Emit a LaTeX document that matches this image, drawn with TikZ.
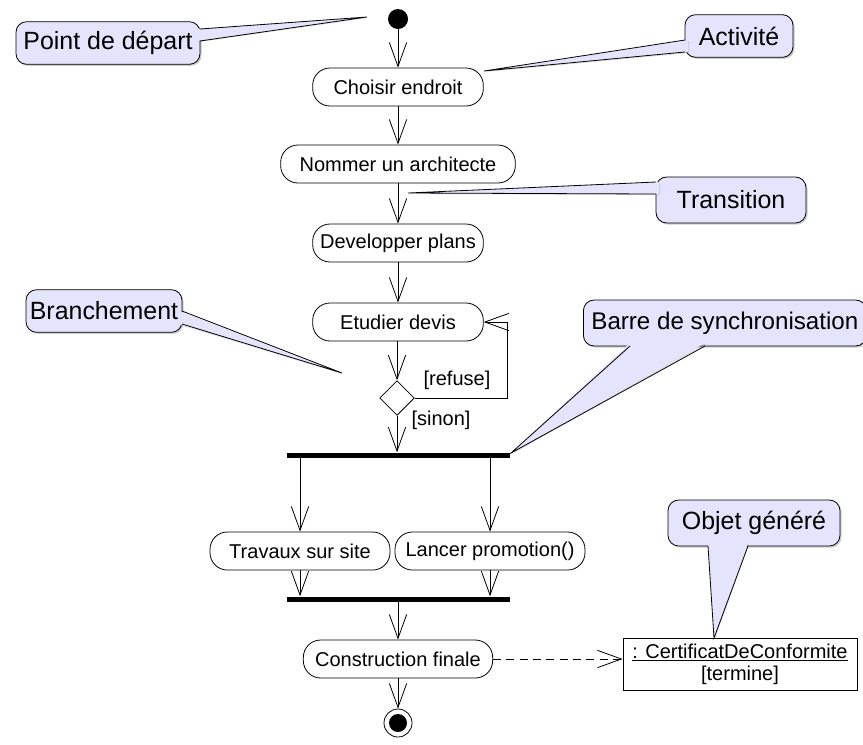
\documentclass[tikz,border=0pt]{standalone}
\usepackage{fontspec}
\setmainfont{Liberation Sans}
\usepackage{tikz}
\usepackage{xcolor}
\usetikzlibrary{shadows,arrows.meta,shapes.geometric}

\definecolor{notefill}{RGB}{228,228,252}

\begin{document}
\begin{tikzpicture}[x=0.75pt, y=-0.75pt,
  act/.style={draw, rectangle, rounded corners=13pt, minimum height=28.5pt,
    inner sep=0pt, line width=0.6pt, font=\fontsize{15}{18}\selectfont},
  bar/.style={fill=black, minimum width=167pt, minimum height=3.75pt, inner sep=0pt},
  flow/.style={line width=0.6pt, -{Straight Barb[length=18pt,width=13pt,line width=0.6pt]}},
  lbl/.style={inner sep=0pt, font=\fontsize{15}{18}\selectfont},
  noteshadow/.style={drop shadow={shadow xshift=1.2pt, shadow yshift=-1.2pt, opacity=0.4}},
  note/.style={draw, fill=notefill, rounded corners=8pt, minimum height=32pt,
    inner sep=0pt, line width=0.6pt, noteshadow, font=\fontsize{18.7}{22}\selectfont},
  ptr/.style={fill=notefill, drop shadow={shadow xshift=0.8pt, shadow yshift=-0.8pt, opacity=0.25}}]

  % Page with its margins
  \useasboundingbox (0,0) rectangle (863,744);

  % Activities
  \node[circle, fill=black, minimum size=15pt, inner sep=0pt] (start) at (398,19) {};
  \node[act, minimum width=128pt] (choisir) at (398,87) {Choisir endroit};
  \node[act, minimum width=176pt] (nommer) at (398,164) {Nommer un architecte};
  \node[act, minimum width=128pt] (plans) at (398,243) {Developper plans};
  \node[act, minimum width=128pt] (devis) at (398,322) {Etudier devis};
  \node[draw, diamond, minimum width=26pt, minimum height=26pt, inner sep=0pt,
    line width=0.6pt] (choix) at (397,398) {};
  \node[bar] (fork) at (398.5,455) {};
  \node[act, minimum width=135pt] (travaux) at (300,551) {Travaux sur site};
  \node[act, minimum width=142.5pt] (promo) at (490,551) {Lancer promotion()};
  \node[bar] (join) at (398.5,599) {};
  \node[act, minimum width=142pt] (constr) at (398,659) {Construction finale};
  \node[circle, draw, minimum size=21pt, inner sep=0pt, line width=0.6pt] (fin) at (398,723) {};
  \node[circle, fill=black, minimum size=13.5pt, inner sep=0pt] (findot) at (fin) {};
  \node[draw, line width=0.6pt, minimum width=175.5pt, minimum height=39pt, inner sep=0pt,
    align=center, font=\fontsize{15}{16.5}\selectfont] (certif) at (740,664)
    {\underline{: CertificatDeConformite}\\{[termine]}};

  % Transitions
  \draw[flow] (start) -- (choisir);
  \draw[flow] (choisir) -- (nommer);
  \draw[flow] (nommer) -- (plans);
  \draw[flow] (plans) -- (devis);
  \draw[flow] (devis.south -| choix.north) -- (choix.north);
  \draw[flow] (choix.south) -- (choix.south |- fork.north);
  \coordinate (retour) at (507,398);
  \draw[flow] (choix.east) -- (retour) |- (devis.east);
  \draw[flow] (fork.south -| travaux.north) -- (travaux.north);
  \draw[flow] (fork.south -| promo.north) -- (promo.north);
  \draw[flow] (travaux.south) -- (travaux.south |- join.north);
  \draw[flow] (promo.south) -- (promo.south |- join.north);
  \draw[flow] (join.south -| constr.north) -- (constr.north);
  \draw[flow] (constr) -- (fin);
  \draw[flow, dash pattern=on 6pt off 4pt] (constr.east) -- (constr.east -| certif.west);

  \node[lbl] (refuse) at (457,380) {[refuse]};
  \node[lbl] (sinon) at (441,420) {[sinon]};

  % Notes
  \node[note, minimum width=138pt] (depart) at (108,43) {Point de départ};
  \coordinate (departtip) at (367,17);
  \fill[ptr] (197,29) -- (departtip) -- (197,41) -- cycle;
  \draw[line width=0.6pt] (200,29) -- (departtip) -- (200,41);

  \node[note, minimum width=81pt] (activite) at (739,36) {Activité};
  \coordinate (activitetip) at (484,71);
  \fill[ptr] (688,40) -- (activitetip) -- (688,52) -- cycle;
  \draw[line width=0.6pt] (685,40) -- (activitetip) -- (685,52);

  \node[note, minimum width=112.5pt, minimum height=34.5pt] (transition) at (731,200) {Transition};
  \coordinate (transitiontip) at (408,193);
  \fill[ptr] (659,182) -- (transitiontip) -- (659,194) -- cycle;
  \draw[line width=0.6pt] (656,182) -- (transitiontip) -- (656,194);

  \node[note, minimum width=117pt] (branche) at (104,311) {Branchement};
  \coordinate (branchetip) at (342,373);
  \fill[ptr] (179,311) -- (branchetip) -- (179,324) -- cycle;
  \draw[line width=0.6pt] (182,311) -- (branchetip) -- (182,324);

  \node[note, anchor=west, inner xsep=6pt, minimum height=34.5pt,
    font=\fontsize{18.1}{22}\selectfont] (barre) at (583,323) {Barre de synchronisation};
  \coordinate (barretip) at (511,453);
  \fill[ptr] (630,343) -- (barretip) -- (705,343) -- cycle;
  \draw[line width=0.6pt] (630,346) -- (barretip) -- (705,346);

  \node[note, minimum width=129pt, minimum height=34.5pt] (objet) at (754,523) {Objet généré};
  \coordinate (objettip) at (714,638);
  \fill[ptr] (708,543) -- (objettip) -- (748,543) -- cycle;
  \draw[line width=0.6pt] (708,546) -- (objettip) -- (748,546);
\end{tikzpicture}
\end{document}
